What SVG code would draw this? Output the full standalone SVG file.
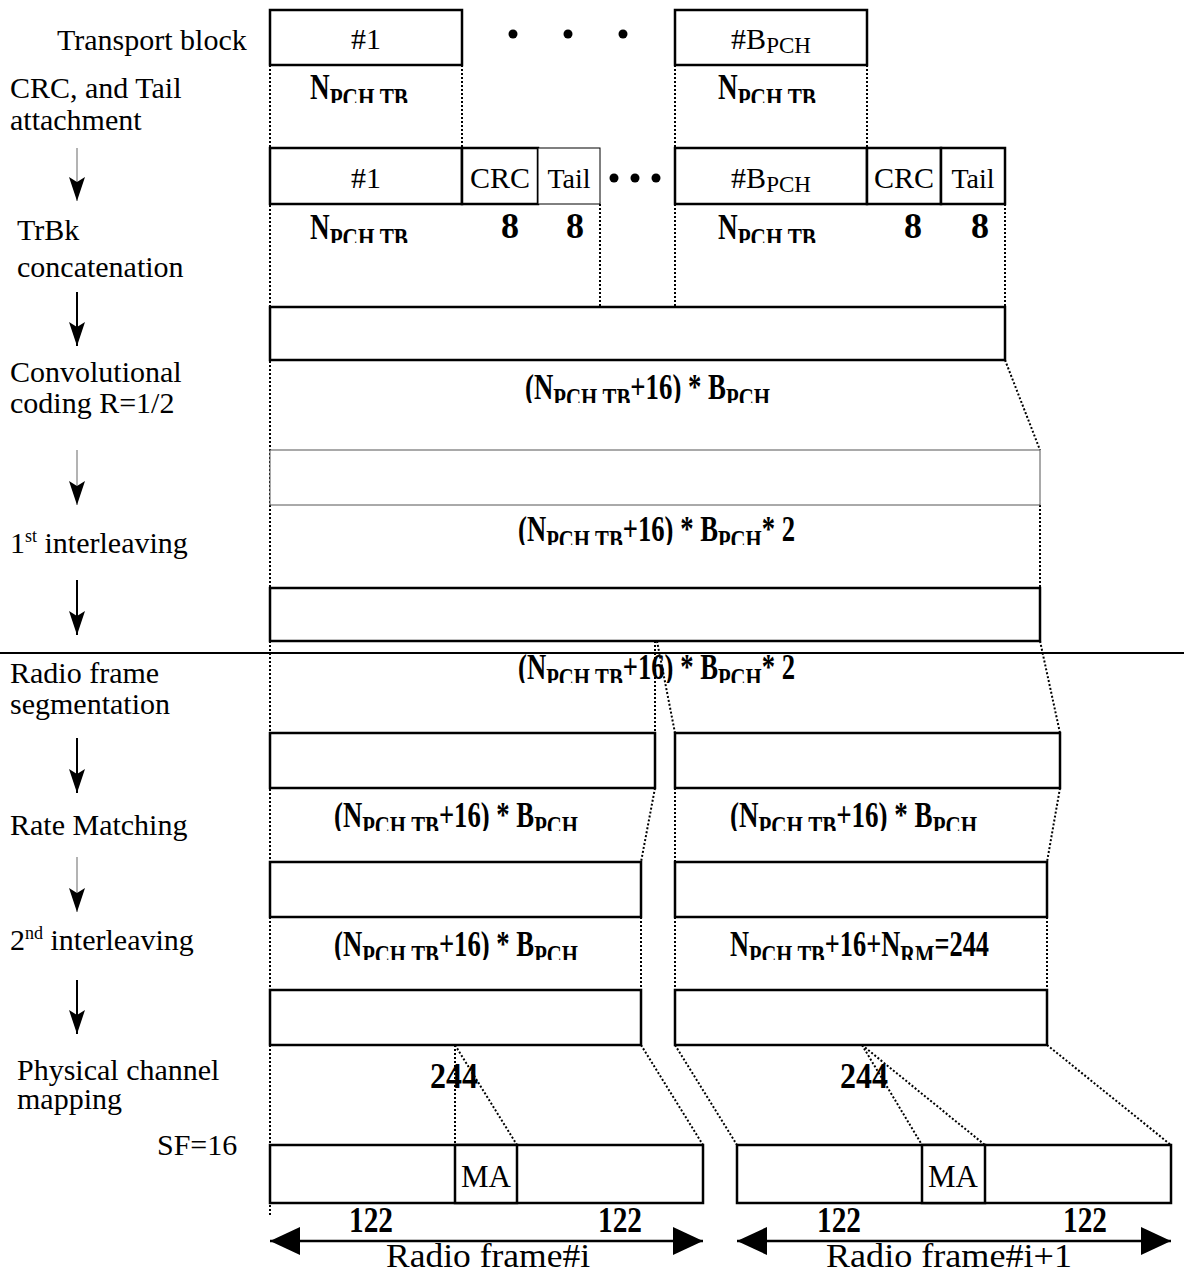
<svg xmlns="http://www.w3.org/2000/svg" width="1184" height="1276" viewBox="0 0 1184 1276">
<style>
text{font-family:"Liberation Serif","Times New Roman",serif;fill:#000}
.t{font-size:30px}
.c{text-anchor:middle}
.b{font-weight:bold;font-size:36px}
.s{font-size:28px}
.box{fill:#fff;stroke:#000;stroke-width:2.5}
.thin{fill:#fff;stroke:#000;stroke-width:1}
.gbox{fill:#fff;stroke:#555;stroke-width:1}
.dot{fill:none;stroke:#000;stroke-width:2;stroke-dasharray:2 2}
.ar{stroke:#000;stroke-width:2;marker-end:url(#ah)}
.arg{stroke:#808080;stroke-width:1.2;marker-end:url(#ah)}
.dbl{stroke:#000;stroke-width:2.5;marker-start:url(#big);marker-end:url(#big)}
</style>
<defs>
<marker id="ah" viewBox="0 0 24 16" refX="24" refY="8" markerWidth="24" markerHeight="16" orient="auto" markerUnits="userSpaceOnUse"><path d="M0,0 L24,8 L0,16 L5,8 Z" fill="#000"/></marker>
<marker id="big" viewBox="0 0 30 28" refX="30" refY="14" markerWidth="30" markerHeight="28" orient="auto-start-reverse" markerUnits="userSpaceOnUse"><path d="M0,0 L30,14 L0,28 Z" fill="#000"/></marker>
<clipPath id="cl" clipPathUnits="userSpaceOnUse">
<rect x="0" y="68" width="1184" height="35"/>
<rect x="0" y="205" width="1184" height="38"/>
<rect x="0" y="365" width="1184" height="38"/>
<rect x="0" y="508" width="1184" height="37"/>
<rect x="0" y="648" width="1184" height="35"/>
<rect x="0" y="795" width="1184" height="36"/>
<rect x="0" y="922" width="1184" height="38"/>
</clipPath>
</defs>
<rect width="1184" height="1276" fill="#fff"/>

<g id="connectors">
<line class="dot" x1="270" y1="65" x2="270" y2="1215"/>
<line class="dot" x1="462" y1="65" x2="462" y2="148"/>
<line class="dot" x1="675" y1="65" x2="675" y2="148"/>
<line class="dot" x1="867" y1="65" x2="867" y2="148"/>
<line class="dot" x1="600" y1="204" x2="600" y2="313"/>
<line class="dot" x1="675" y1="204" x2="675" y2="313"/>
<line class="dot" x1="1005" y1="204" x2="1005" y2="307"/>
<line class="dot" x1="1005" y1="360" x2="1040" y2="450"/>
<line class="dot" x1="1040" y1="505" x2="1040" y2="588"/>
<line class="dot" x1="655" y1="641" x2="655" y2="733"/>
<line class="dot" x1="657" y1="641" x2="675" y2="733"/>
<line class="dot" x1="1040" y1="641" x2="1060" y2="733"/>
<line class="dot" x1="655" y1="788" x2="641" y2="862"/>
<line class="dot" x1="675" y1="788" x2="675" y2="862"/>
<line class="dot" x1="1060" y1="788" x2="1047" y2="862"/>
<line class="dot" x1="641" y1="917" x2="641" y2="990"/>
<line class="dot" x1="675" y1="917" x2="675" y2="990"/>
<line class="dot" x1="1047" y1="917" x2="1047" y2="990"/>
<line class="dot" x1="455" y1="1045" x2="455" y2="1145"/>
<line class="dot" x1="455" y1="1045" x2="517" y2="1145"/>
<line class="dot" x1="641" y1="1045" x2="703" y2="1145"/>
<line class="dot" x1="675" y1="1045" x2="737" y2="1145"/>
<line class="dot" x1="862" y1="1045" x2="922" y2="1145"/>
<line class="dot" x1="862" y1="1045" x2="985" y2="1145"/>
<line class="dot" x1="1047" y1="1045" x2="1171" y2="1145"/>
<line class="arg" x1="77" y1="148" x2="77" y2="201"/>
<line class="ar" x1="77" y1="292" x2="77" y2="346"/>
<line class="arg" x1="77" y1="450" x2="77" y2="505"/>
<line class="ar" x1="77" y1="580" x2="77" y2="635"/>
<line class="ar" x1="77" y1="738" x2="77" y2="793"/>
<line class="arg" x1="77" y1="857" x2="77" y2="912"/>
<line class="ar" x1="77" y1="980" x2="77" y2="1034"/>
<line stroke="#000" stroke-width="2" x1="0" y1="653" x2="1184" y2="653"/>
<line class="dbl" x1="270" y1="1241" x2="703" y2="1241"/>
<line class="dbl" x1="737" y1="1241" x2="1171" y2="1241"/>
</g>

<g id="step-labels" class="t">
<text x="57" y="50">Transport block</text>
<text x="10" y="98">CRC, and Tail</text>
<text x="10" y="130">attachment</text>
<text x="17" y="240">TrBk</text>
<text x="17" y="277">concatenation</text>
<text x="10" y="382">Convolutional</text>
<text x="10" y="413">coding R=1/2</text>
<text x="10" y="553">1<tspan style="font-size:18px" dy="-11">st</tspan><tspan dy="11"> interleaving</tspan></text>
<text x="10" y="683">Radio frame</text>
<text x="10" y="714">segmentation</text>
<text x="10" y="835">Rate Matching</text>
<text x="10" y="950">2<tspan style="font-size:18px" dy="-11">nd</tspan><tspan dy="11"> interleaving</tspan></text>
<text x="17" y="1080">Physical channel</text>
<text x="17" y="1109">mapping</text>
<text x="157" y="1155">SF=16</text>
</g>

<g id="tb1"><rect class="box" x="270" y="10" width="192" height="55"/><text class="t c" x="366" y="49">#1</text></g>
<g id="tb-dots"><circle cx="513" cy="34" r="4.5"/><circle cx="568" cy="34" r="4.5"/><circle cx="623" cy="34" r="4.5"/></g>
<g id="tbB"><rect class="box" x="675" y="10" width="192" height="55"/><text class="t c" x="771" y="49">#B<tspan style="font-size:23px" dy="4">PCH</tspan></text></g>

<g id="crc1">
<rect class="box" x="270" y="148" width="192" height="56"/><text class="t c" x="366" y="188">#1</text>
<rect class="box" x="462" y="148" width="76" height="56"/><text class="t c" x="500" y="188">CRC</text>
<rect class="thin" x="538" y="148" width="62" height="56"/><text class="t c" x="569" y="188" style="font-size:28px">Tail</text>
</g>
<g id="crc-dots"><circle cx="614" cy="178" r="4.5"/><circle cx="635" cy="178" r="4.5"/><circle cx="656" cy="178" r="4.5"/></g>
<g id="crcB">
<rect class="box" x="675" y="148" width="192" height="56"/><text class="t c" x="771" y="188">#B<tspan style="font-size:23px" dy="4">PCH</tspan></text>
<rect class="box" x="867" y="148" width="74" height="56"/><text class="t c" x="904" y="188">CRC</text>
<rect class="box" x="941" y="148" width="64" height="56"/><text class="t c" x="973" y="188" style="font-size:28px">Tail</text>
</g>

<g id="concat"><rect class="box" x="270" y="307" width="735" height="53"/></g>
<g id="coded"><rect class="gbox" x="270" y="450" width="770" height="55"/></g>
<g id="interleaved"><rect class="box" x="270" y="588" width="770" height="53"/></g>
<g id="seg1"><rect class="box" x="270" y="733" width="385" height="55"/></g>
<g id="seg2"><rect class="box" x="675" y="733" width="385" height="55"/></g>
<g id="rm1"><rect class="box" x="270" y="862" width="371" height="55"/></g>
<g id="rm2"><rect class="box" x="675" y="862" width="372" height="55"/></g>
<g id="il1"><rect class="box" x="270" y="990" width="371" height="55"/></g>
<g id="il2"><rect class="box" x="675" y="990" width="372" height="55"/></g>

<g id="frame1">
<rect class="box" x="270" y="1145" width="433" height="58"/>
<rect class="box" x="455" y="1145" width="62" height="58"/>
<text class="t c" x="486" y="1187" style="font-size:32px" textLength="50" lengthAdjust="spacingAndGlyphs">MA</text>
</g>
<g id="frame2">
<rect class="box" x="737" y="1145" width="434" height="58"/>
<rect class="box" x="922" y="1145" width="63" height="58"/>
<text class="t c" x="953" y="1187" style="font-size:32px" textLength="50" lengthAdjust="spacingAndGlyphs">MA</text>
</g>

<g id="size-labels" clip-path="url(#cl)">
<text class="b" x="310" y="99" textLength="98" lengthAdjust="spacingAndGlyphs">N<tspan class="s" dy="8">PCH,TB</tspan></text>
<text class="b" x="718" y="99" textLength="98" lengthAdjust="spacingAndGlyphs">N<tspan class="s" dy="8">PCH,TB</tspan></text>
<text class="b" x="310" y="239" textLength="98" lengthAdjust="spacingAndGlyphs">N<tspan class="s" dy="8">PCH,TB</tspan></text>
<text class="b" x="718" y="239" textLength="98" lengthAdjust="spacingAndGlyphs">N<tspan class="s" dy="8">PCH,TB</tspan></text>
<text class="b c" x="510" y="238">8</text>
<text class="b c" x="575" y="238">8</text>
<text class="b c" x="913" y="238">8</text>
<text class="b c" x="980" y="238">8</text>
<text class="b" x="525" y="399" textLength="245" lengthAdjust="spacingAndGlyphs">(N<tspan class="s" dy="8">PCH,TB</tspan><tspan dy="-8">+16) * B</tspan><tspan class="s" dy="8">PCH</tspan></text>
<text class="b" x="518" y="541" textLength="277" lengthAdjust="spacingAndGlyphs">(N<tspan class="s" dy="8">PCH,TB</tspan><tspan dy="-8">+16) * B</tspan><tspan class="s" dy="8">PCH</tspan><tspan dy="-8">* 2</tspan></text>
<text class="b" x="518" y="679" textLength="277" lengthAdjust="spacingAndGlyphs">(N<tspan class="s" dy="8">PCH,TB</tspan><tspan dy="-8">+16) * B</tspan><tspan class="s" dy="8">PCH</tspan><tspan dy="-8">* 2</tspan></text>
<text class="b" x="334" y="827" textLength="244" lengthAdjust="spacingAndGlyphs">(N<tspan class="s" dy="8">PCH,TB</tspan><tspan dy="-8">+16) * B</tspan><tspan class="s" dy="8">PCH</tspan></text>
<text class="b" x="730" y="827" textLength="247" lengthAdjust="spacingAndGlyphs">(N<tspan class="s" dy="8">PCH,TB</tspan><tspan dy="-8">+16) * B</tspan><tspan class="s" dy="8">PCH</tspan></text>
<text class="b" x="334" y="956" textLength="244" lengthAdjust="spacingAndGlyphs">(N<tspan class="s" dy="8">PCH,TB</tspan><tspan dy="-8">+16) * B</tspan><tspan class="s" dy="8">PCH</tspan></text>
<text class="b" x="730" y="956" textLength="259" lengthAdjust="spacingAndGlyphs">N<tspan class="s" dy="8">PCH,TB</tspan><tspan dy="-8">+16+N</tspan><tspan class="s" dy="8">RM</tspan><tspan dy="-8">=244</tspan></text>
</g>
<g id="bit-labels">
<text class="b" x="430" y="1088" textLength="48" lengthAdjust="spacingAndGlyphs">244</text>
<text class="b" x="840" y="1088" textLength="48" lengthAdjust="spacingAndGlyphs">244</text>
<text class="b" x="349" y="1232" textLength="44" lengthAdjust="spacingAndGlyphs">122</text>
<text class="b" x="598" y="1232" textLength="44" lengthAdjust="spacingAndGlyphs">122</text>
<text class="b" x="817" y="1232" textLength="44" lengthAdjust="spacingAndGlyphs">122</text>
<text class="b" x="1063" y="1232" textLength="44" lengthAdjust="spacingAndGlyphs">122</text>
</g>
<g id="frame-labels">
<text class="c" x="488" y="1267" style="font-size:33px" textLength="204" lengthAdjust="spacingAndGlyphs">Radio frame#i</text>
<text class="c" x="949" y="1267" style="font-size:33px" textLength="246" lengthAdjust="spacingAndGlyphs">Radio frame#i+1</text>
</g>
</svg>
